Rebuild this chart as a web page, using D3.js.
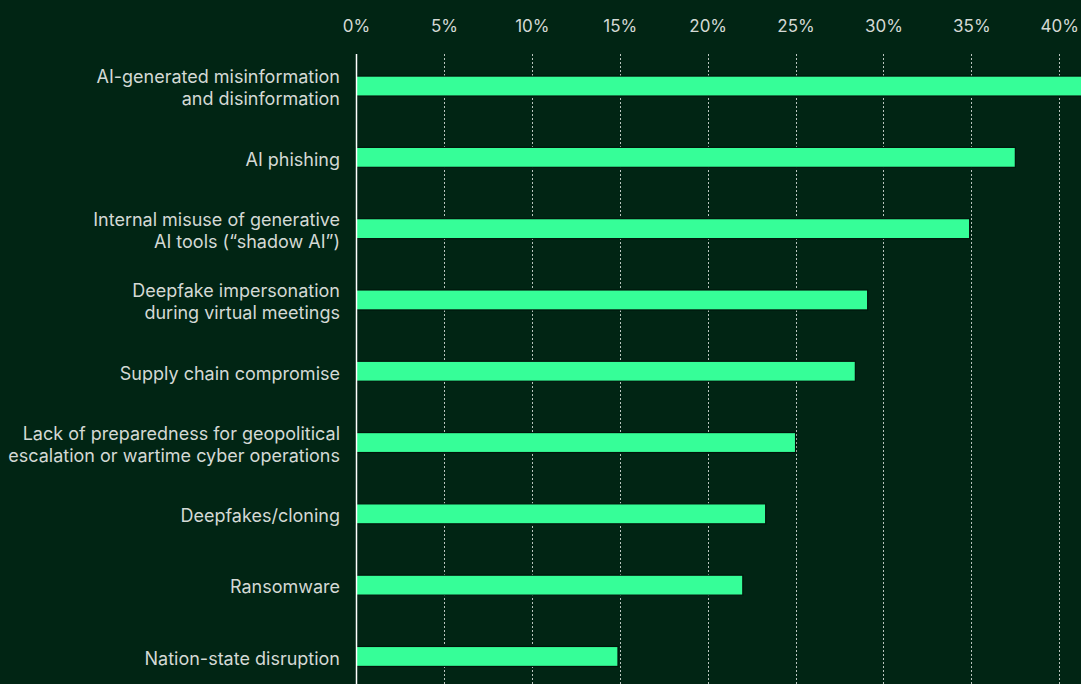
<!DOCTYPE html>
<html>
<head>
<meta charset="utf-8">
<script src="https://cdn.jsdelivr.net/npm/d3@7"></script>
<style>
  body { margin: 0; background: #012514; }
  svg { display: block; }
</style>
</head>
<body>
<script>
var categories = [
  ['AI-generated misinformation', 'and disinformation'],
  ['AI phishing'],
  ['Internal misuse of generative', 'AI tools (\u201cshadow AI\u201d)'],
  ['Deepfake impersonation', 'during virtual meetings'],
  ['Supply chain compromise'],
  ['Lack of preparedness for geopolitical', 'escalation or wartime cyber operations'],
  ['Deepfakes/cloning'],
  ['Ransomware'],
  ['Nation-state disruption']
];
var values = [42.5, 37.5, 34.9, 29.1, 28.4, 25.0, 23.3, 22.0, 14.9];
var ticks = [0, 5, 10, 15, 20, 25, 30, 35, 40];

var w = 1081;
var h = 684;
var left = 356;

var svg = d3.select('body')
  .append('svg')
  .attr('width', w)
  .attr('height', h);

svg.append('rect')
  .attr('width', w)
  .attr('height', h)
  .attr('fill', '#012514');

/* ===== scales ===== */

var xScale = d3.scaleLinear()
  .domain([0, 40])
  .range([left, 1059.3]);

var yScale = d3.scaleBand()
  .domain(d3.range(categories.length))
  .range([50.4, 50.4 + 9 * 71.3])
  .paddingInner(0.72)
  .paddingOuter(0.36);

/* ===== grid ===== */

svg.selectAll('.grid')
  .data(ticks.slice(1))
  .enter()
  .append('line')
  .attr('class', 'grid')
  .attr('x1', function(d) { return Math.round(xScale(d)) + 0.5; })
  .attr('x2', function(d) { return Math.round(xScale(d)) + 0.5; })
  .attr('y1', 54)
  .attr('y2', h)
  .attr('stroke', '#e8ece8')
  .attr('stroke-width', 1)
  .attr('stroke-dasharray', '2,2')
  .attr('opacity', 0.8);

/* ===== top axis ===== */

var xAxis = d3.axisTop(xScale)
  .tickValues(ticks)
  .tickSize(0)
  .tickPadding(0)
  .tickFormat(function(d) { return d + '%'; });

var axisG = svg.append('g')
  .attr('transform', 'translate(0,32)')
  .call(xAxis);
axisG.select('.domain').remove();
axisG.selectAll('text')
  .attr('fill', '#d4d9d5')
  .style('font-family', 'Inter, sans-serif')
  .style('font-size', '17px');

/* ===== bars ===== */

svg.selectAll('.bar')
  .data(values)
  .enter()
  .append('rect')
  .attr('class', 'bar')
  .attr('x', xScale(0))
  .attr('y', function(d, i) { return yScale(i); })
  .attr('width', function(d) { return xScale(d) - xScale(0); })
  .attr('height', yScale.bandwidth())
  .attr('fill', '#36fe98')
  .attr('stroke', '#00140a')
  .attr('stroke-width', 1.2);

/* ===== left axis line ===== */

svg.append('line')
  .attr('x1', left + 0.5)
  .attr('x2', left + 0.5)
  .attr('y1', 54)
  .attr('y2', h)
  .attr('stroke', '#ffffff')
  .attr('stroke-width', 1.5);

/* ===== category labels ===== */

var lineH = 22;
var labels = svg.selectAll('.label')
  .data(categories)
  .enter()
  .append('text')
  .attr('class', 'label')
  .attr('text-anchor', 'end')
  .attr('fill', '#d4d9d5')
  .style('font-family', 'Inter, sans-serif')
  .style('font-size', '18px')
  .attr('transform', function(d, i) {
    var cy = yScale(i) + yScale.bandwidth() / 2 + 2;
    return 'translate(340,' + (cy - (d.length - 1) * lineH / 2) + ')';
  });

labels.selectAll('tspan')
  .data(function(d) { return d; })
  .enter()
  .append('tspan')
  .attr('x', 0)
  .attr('y', function(d, i) { return i * lineH; })
  .attr('dy', '0.35em')
  .text(function(d) { return d; });
</script>
</body>
</html>
